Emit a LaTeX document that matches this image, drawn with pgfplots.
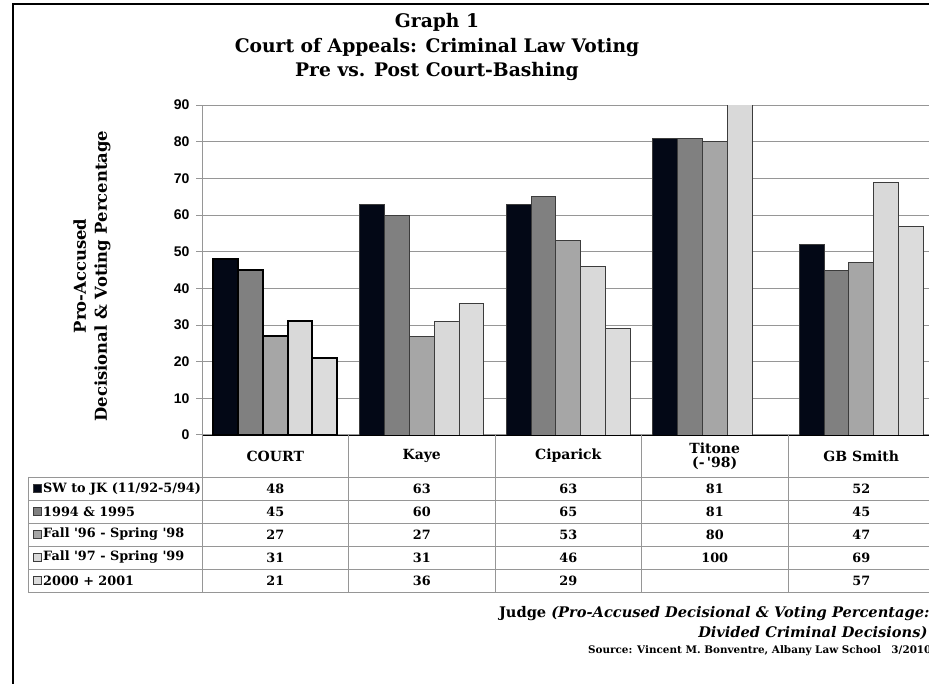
\documentclass[border=0pt]{standalone}
\usepackage{fontspec}
\setmainfont{DejaVu Serif}
\newfontfamily\ticksf{Liberation Sans}
\usepackage{pgfplots}
\pgfplotsset{compat=1.18}
\definecolor{sA}{RGB}{3,8,22}
\definecolor{sB}{RGB}{128,128,128}
\definecolor{sC}{RGB}{166,166,166}
\definecolor{sD}{RGB}{217,217,217}
\definecolor{sE}{RGB}{220,220,220}
\definecolor{edge}{RGB}{60,60,60}
\definecolor{rule}{RGB}{150,150,150}
\newcommand{\q}{\textquotesingle}
\begin{document}
\begin{tikzpicture}
\useasboundingbox (0pt,0pt) rectangle (929pt,683pt);
\clip (0pt,0pt) rectangle (929pt,683pt);
\begin{axis}[at={(202pt,248pt)},anchor=south west,scale only axis,
  width=732.5pt,height=330pt,
  xmin=-0.5,xmax=4.5,ymin=0,ymax=90,
  ytick={0,10,...,90},xtick=\empty,
  axis x line*=bottom,axis y line*=left,
  x axis line style={draw=black,line width=0.8pt},
  y axis line style={draw=rule,line width=1pt},
  ymajorgrids,grid style={draw=rule,line width=1pt},
  tick align=outside,major tick length=6pt,
  ytick style={draw=rule,line width=1pt},
  /pgf/number format/assume math mode=true,
  yticklabel style={font=\ticksf\bfseries\fontsize{14}{14}\selectfont,xshift=-3pt},
  ybar,bar width=24.8pt]
% judges
\addplot[fill=sA,draw=edge,line width=0.8pt,bar shift=-49.6pt] coordinates {(1,63) (2,63) (3,81) (4,52)};
\addplot[fill=sB,draw=edge,line width=0.8pt,bar shift=-24.8pt] coordinates {(1,60) (2,65) (3,81) (4,45)};
\addplot[fill=sC,draw=edge,line width=0.8pt,bar shift=0pt] coordinates {(1,27) (2,53) (3,80) (4,47)};
\addplot[fill=sD,draw=edge,line width=0.8pt,bar shift=24.8pt] coordinates {(1,31) (2,46) (3,100) (4,69)};
\addplot[fill=sE,draw=edge,line width=0.8pt,bar shift=49.6pt] coordinates {(1,36) (2,29) (4,57)};
% court, heavy outline
\addplot[fill=sA,draw=black,line width=2pt,bar shift=-49.6pt] coordinates {(0,48)};
\addplot[fill=sB,draw=black,line width=2pt,bar shift=-24.8pt] coordinates {(0,45)};
\addplot[fill=sC,draw=black,line width=2pt,bar shift=0pt] coordinates {(0,27)};
\addplot[fill=sD,draw=black,line width=2pt,bar shift=24.8pt] coordinates {(0,31)};
\addplot[fill=sE,draw=black,line width=2pt,bar shift=49.6pt] coordinates {(0,21)};
\end{axis}
\begin{scope}[x=1pt,y=1pt]
\draw[line width=2.5pt] (13,-5) -- (13,679) -- (940,679);
% titles
\begin{scope}[every node/.style={anchor=base,font=\fontsize{18.7}{22}\selectfont\bfseries}]
\node at (437,655) {Graph 1};
\node at (437,630) {Court of Appeals: Criminal Law Voting};
\node at (437,606) {Pre vs. Post Court-Bashing};
\end{scope}
\node[rotate=90,align=center,font=\fontsize{16.4}{21}\selectfont\bfseries] at (92,407)
  {Pro-Accused\\Decisional \& Voting Percentage};
% data table
\begin{scope}[draw=rule,line width=0.9pt]
\foreach \x in {202,348.5,495,641.5,788,934.5} \draw (\x,248) -- (\x,91);
\foreach \y in {206,183,160,137,114,91} \draw (28,\y) -- (940,\y);
\draw (28,206) -- (28,91);
\end{scope}
\begin{scope}[every node/.style={font=\fontsize{14}{16}\selectfont\bfseries,align=center}]
\node at (275.25,227) {COURT};
\node at (421.75,227) {Kaye};
\node at (568.25,227) {Ciparick};
\node at (714.75,227) {Titone\\[-2pt](-\,\q98)};
\node at (861.25,227) {GB Smith};
\end{scope}
\begin{scope}[every node/.style={font=\fontsize{12.8}{14}\selectfont\bfseries}]
\foreach \c [count=\i] in {sA,sB,sC,sD,sE}
  \filldraw[fill=\c,draw=edge,line width=0.6pt] (33,213.5-23*\i) rectangle (41,221.5-23*\i);
\node[anchor=west,inner sep=0pt] at (43,194.5) {SW to JK (11/92-5/94)};
\node[anchor=west,inner sep=0pt] at (43,171.5) {1994 \& 1995};
\node[anchor=west,inner sep=0pt] at (43,148.5) {Fall \q96 - Spring \q98};
\node[anchor=west,inner sep=0pt] at (43,125.5) {Fall \q97 - Spring \q99};
\node[anchor=west,inner sep=0pt] at (43,102.5) {2000 + 2001};
\foreach \a/\b/\cc/\d/\e [count=\i] in {48/63/63/81/52,45/60/65/81/45,27/27/53/80/47,31/31/46/100/69,21/36/29//57}{
  \pgfmathsetmacro\yc{217.5-23*\i}
  \node at (275.25,\yc) {\a};
  \node at (421.75,\yc) {\b};
  \node at (568.25,\yc) {\cc};
  \node at (714.75,\yc) {\d};
  \node at (861.25,\yc) {\e};
}
\end{scope}
\node[anchor=base east,font=\fontsize{14.6}{18}\selectfont\bfseries] at (933,66)
  {Judge \textit{(Pro-Accused Decisional \& Voting Percentage:}};
\node[anchor=base east,font=\fontsize{14.6}{18}\selectfont\bfseries\itshape] at (931,46)
  {Divided Criminal Decisions)};
\node[anchor=base east,font=\fontsize{10.4}{13}\selectfont\bfseries] at (935,30)
  {Source: Vincent M. Bonventre, Albany Law School\quad 3/2010};
\end{scope}
\end{tikzpicture}
\end{document}
